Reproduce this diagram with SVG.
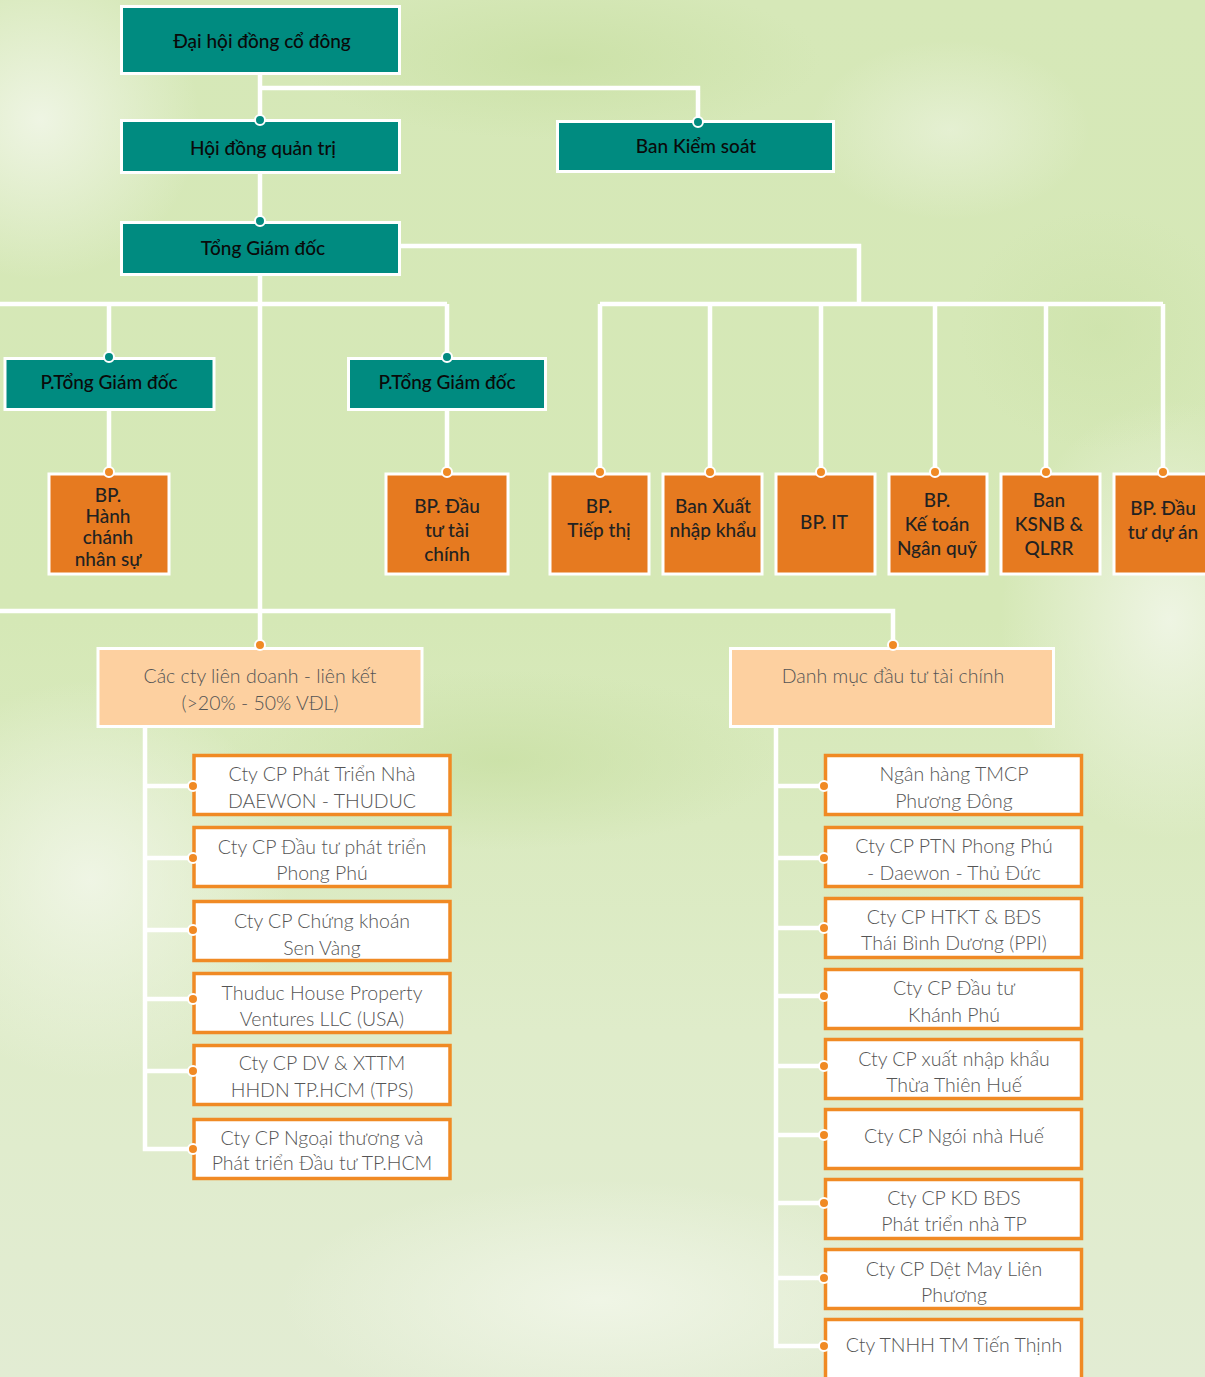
<svg xmlns="http://www.w3.org/2000/svg" width="1205" height="1377" viewBox="0 0 1205 1377">
<defs>
<linearGradient id="bg" x1="0" y1="0" x2="0" y2="1">
<stop offset="0" stop-color="#d6e8b8"/>
<stop offset="0.45" stop-color="#d5e8b6"/>
<stop offset="0.75" stop-color="#dfecca"/>
<stop offset="1" stop-color="#e2ecd3"/>
</linearGradient>
<radialGradient id="lite" cx="0.5" cy="0.5" r="0.5">
<stop offset="0" stop-color="#f1f6e8" stop-opacity="0.9"/>
<stop offset="1" stop-color="#f1f6e8" stop-opacity="0"/>
</radialGradient>
<radialGradient id="dark" cx="0.5" cy="0.5" r="0.5">
<stop offset="0" stop-color="#c9e0a4" stop-opacity="0.8"/>
<stop offset="1" stop-color="#c9e0a4" stop-opacity="0"/>
</radialGradient>
<style>
.tl{fill:#008b80;stroke:#fff;stroke-width:3}
.or{fill:#e67a20;stroke:#fff;stroke-width:3}
.pe{fill:#fdd0a0;stroke:#fff;stroke-width:3}
.wb{fill:#fff;stroke:#f08a24;stroke-width:3.5}
.conn path{fill:none;stroke:#fff;stroke-width:4.5}
.dt{fill:#008b80;stroke:#fff;stroke-width:2}
.do{fill:#f08a24;stroke:#fff;stroke-width:2}
text{font-family:"Lato","Open Sans",sans-serif;text-anchor:middle}
.t1{font-size:19px;font-weight:500;fill:#0a0a0a}
.t2{font-size:19px;font-weight:500;fill:#222}
.t3{font-size:19.5px;font-weight:300;fill:#555}
</style>
</defs>
<rect width="1205" height="1377" fill="url(#bg)"/>
<ellipse cx="40" cy="120" rx="160" ry="160" fill="url(#lite)"/>
<ellipse cx="1170" cy="620" rx="170" ry="220" fill="url(#lite)"/>
<ellipse cx="90" cy="880" rx="200" ry="200" fill="url(#lite)"/>
<ellipse cx="950" cy="130" rx="140" ry="90" fill="url(#lite)" opacity="0.6"/>
<ellipse cx="600" cy="1300" rx="320" ry="120" fill="url(#lite)"/>
<ellipse cx="500" cy="760" rx="280" ry="90" fill="url(#dark)"/>
<ellipse cx="560" cy="60" rx="260" ry="80" fill="url(#dark)"/>
<ellipse cx="1100" cy="330" rx="140" ry="120" fill="url(#dark)" opacity="0.6"/>

<g class="conn">
<path d="M260 75V119"/>
<path d="M260 88H698V120"/>
<path d="M260 174V221"/>
<path d="M260 276V645"/>
<path d="M401 246H859V304"/>
<path d="M600 304H1163"/>
<path d="M600 304V472M710 304V472M821 304V472M935 304V472M1046 304V472M1163 304V472"/>
<path d="M0 304H447"/>
<path d="M109 304V357M447 304V357"/>
<path d="M109 410V472M447 410V472"/>
<path d="M0 611H893V645"/>
<path d="M145 727V1149H193M145 786H193M145 858H193M145 930H193M145 999H193M145 1071H193"/>
<path d="M776 727V1346H824M776 786H824M776 858H824M776 928H824M776 996H824M776 1066H824M776 1135H824M776 1203H824M776 1278H824"/>
</g>

<g id="n-dhdcd"><rect class="tl" x="121.5" y="6.5" width="278" height="67"/><text class="t1" x="262" y="48">Đại hội đồng cổ đông</text></g>
<g id="n-hdqt"><rect class="tl" x="121.5" y="120.5" width="278" height="52"/><circle class="dt" cx="260" cy="120" r="5"/><text class="t1" x="263" y="155">Hội đồng quản trị</text></g>
<g id="n-bks"><rect class="tl" x="557.5" y="121.5" width="276" height="50"/><circle class="dt" cx="698" cy="122" r="5"/><text class="t1" x="696" y="153">Ban Kiểm soát</text></g>
<g id="n-tgd"><rect class="tl" x="121.5" y="222.5" width="278" height="52"/><circle class="dt" cx="260" cy="221" r="5"/><text class="t1" x="263" y="255">Tổng Giám đốc</text></g>
<g id="n-ptgd1"><rect class="tl" x="5" y="358.5" width="209" height="51"/><circle class="dt" cx="109" cy="357" r="5"/><text class="t1" x="109" y="389">P.Tổng Giám đốc</text></g>
<g id="n-ptgd2"><rect class="tl" x="348.5" y="358.5" width="197" height="51"/><circle class="dt" cx="447" cy="357" r="5"/><text class="t1" x="447" y="389">P.Tổng Giám đốc</text></g>

<g id="n-hcns"><rect class="or" x="49" y="474" width="120" height="100"/><circle class="do" cx="109" cy="472" r="5"/><text class="t2" x="108" y="502">BP.</text><text class="t2" x="108" y="523">Hành</text><text class="t2" x="108" y="544">chánh</text><text class="t2" x="108" y="566">nhân sự</text></g>
<g id="n-dttc"><rect class="or" x="386" y="474" width="122" height="100"/><circle class="do" cx="447" cy="472" r="5"/><text class="t2" x="447" y="513">BP. Đầu</text><text class="t2" x="447" y="537">tư tài</text><text class="t2" x="447" y="561">chính</text></g>
<g id="n-tt"><rect class="or" x="550" y="474" width="99" height="100"/><circle class="do" cx="600" cy="472" r="5"/><text class="t2" x="599" y="513">BP.</text><text class="t2" x="599" y="537">Tiếp thị</text></g>
<g id="n-xnk"><rect class="or" x="663" y="474" width="99" height="100"/><circle class="do" cx="710" cy="472" r="5"/><text class="t2" x="713" y="513">Ban Xuất</text><text class="t2" x="713" y="537">nhập khẩu</text></g>
<g id="n-it"><rect class="or" x="776" y="474" width="99" height="100"/><circle class="do" cx="821" cy="472" r="5"/><text class="t2" x="824" y="529">BP. IT</text></g>
<g id="n-ktnq"><rect class="or" x="889" y="474" width="98" height="100"/><circle class="do" cx="935" cy="472" r="5"/><text class="t2" x="937" y="507">BP.</text><text class="t2" x="937" y="531">Kế toán</text><text class="t2" x="937" y="555">Ngân quỹ</text></g>
<g id="n-ksnb"><rect class="or" x="1001" y="474" width="99" height="100"/><circle class="do" cx="1046" cy="472" r="5"/><text class="t2" x="1049" y="507">Ban</text><text class="t2" x="1049" y="531">KSNB &amp;</text><text class="t2" x="1049" y="555">QLRR</text></g>
<g id="n-dtda"><rect class="or" x="1114" y="474" width="100" height="100"/><circle class="do" cx="1163" cy="472" r="5"/><text class="t2" x="1163" y="515">BP. Đầu</text><text class="t2" x="1163" y="539">tư dự án</text></g>

<g id="n-lk"><rect class="pe" x="98" y="648.5" width="324" height="78"/><circle class="do" cx="260" cy="645" r="5"/><text class="t3" x="260" y="683">Các cty liên doanh - liên kết</text><text class="t3" x="260" y="710">(&gt;20% - 50% VĐL)</text></g>
<g id="n-dm"><rect class="pe" x="730.5" y="648.5" width="323" height="78"/><circle class="do" cx="893" cy="645" r="5"/><text class="t3" x="893" y="683">Danh mục đầu tư tài chính</text></g>

<g id="n-l1"><rect class="wb" x="194" y="755.5" width="256" height="59"/><circle class="do" cx="193" cy="786" r="5"/><text class="t3" x="322" y="781">Cty CP Phát Triển Nhà</text><text class="t3" x="322" y="808">DAEWON - THUDUC</text></g>
<g id="n-l2"><rect class="wb" x="194" y="827.5" width="256" height="59"/><circle class="do" cx="193" cy="858" r="5"/><text class="t3" x="322" y="854">Cty CP Đầu tư phát triển</text><text class="t3" x="322" y="880">Phong Phú</text></g>
<g id="n-l3"><rect class="wb" x="194" y="901.5" width="256" height="59"/><circle class="do" cx="193" cy="930" r="5"/><text class="t3" x="322" y="928">Cty CP Chứng khoán</text><text class="t3" x="322" y="955">Sen Vàng</text></g>
<g id="n-l4"><rect class="wb" x="194" y="973.5" width="256" height="59"/><circle class="do" cx="193" cy="999" r="5"/><text class="t3" x="322" y="1000">Thuduc House Property</text><text class="t3" x="322" y="1026">Ventures LLC (USA)</text></g>
<g id="n-l5"><rect class="wb" x="194" y="1045.5" width="256" height="59"/><circle class="do" cx="193" cy="1071" r="5"/><text class="t3" x="322" y="1070">Cty CP DV &amp; XTTM</text><text class="t3" x="322" y="1097">HHDN TP.HCM (TPS)</text></g>
<g id="n-l6"><rect class="wb" x="194" y="1119.5" width="256" height="59"/><circle class="do" cx="193" cy="1149" r="5"/><text class="t3" x="322" y="1145">Cty CP Ngoại thương và</text><text class="t3" x="322" y="1170">Phát triển Đầu tư TP.HCM</text></g>

<g id="n-r1"><rect class="wb" x="825.5" y="755.5" width="256" height="59"/><circle class="do" cx="824" cy="786" r="5"/><text class="t3" x="954" y="781">Ngân hàng TMCP</text><text class="t3" x="954" y="808">Phương Đông</text></g>
<g id="n-r2"><rect class="wb" x="825.5" y="827.5" width="256" height="59"/><circle class="do" cx="824" cy="858" r="5"/><text class="t3" x="954" y="853">Cty CP PTN Phong Phú</text><text class="t3" x="954" y="880">- Daewon - Thủ Đức</text></g>
<g id="n-r3"><rect class="wb" x="825.5" y="898.5" width="256" height="59"/><circle class="do" cx="824" cy="928" r="5"/><text class="t3" x="954" y="924">Cty CP HTKT &amp; BĐS</text><text class="t3" x="954" y="950">Thái Bình Dương (PPI)</text></g>
<g id="n-r4"><rect class="wb" x="825.5" y="969.5" width="256" height="59"/><circle class="do" cx="824" cy="996" r="5"/><text class="t3" x="954" y="995">Cty CP Đầu tư</text><text class="t3" x="954" y="1022">Khánh Phú</text></g>
<g id="n-r5"><rect class="wb" x="825.5" y="1039.5" width="256" height="59"/><circle class="do" cx="824" cy="1066" r="5"/><text class="t3" x="954" y="1066">Cty CP xuất nhập khẩu</text><text class="t3" x="954" y="1092">Thừa Thiên Huế</text></g>
<g id="n-r6"><rect class="wb" x="825.5" y="1109.5" width="256" height="59"/><circle class="do" cx="824" cy="1135" r="5"/><text class="t3" x="954" y="1143">Cty CP Ngói nhà Huế</text></g>
<g id="n-r7"><rect class="wb" x="825.5" y="1179.5" width="256" height="59"/><circle class="do" cx="824" cy="1203" r="5"/><text class="t3" x="954" y="1205">Cty CP KD BĐS</text><text class="t3" x="954" y="1231">Phát triển nhà TP</text></g>
<g id="n-r8"><rect class="wb" x="825.5" y="1249.5" width="256" height="59"/><circle class="do" cx="824" cy="1278" r="5"/><text class="t3" x="954" y="1276">Cty CP Dệt May Liên</text><text class="t3" x="954" y="1302">Phương</text></g>
<g id="n-r9"><rect class="wb" x="825.5" y="1319.5" width="256" height="80"/><circle class="do" cx="824" cy="1346" r="5"/><text class="t3" x="954" y="1352">Cty TNHH TM Tiến Thịnh</text></g>
</svg>
